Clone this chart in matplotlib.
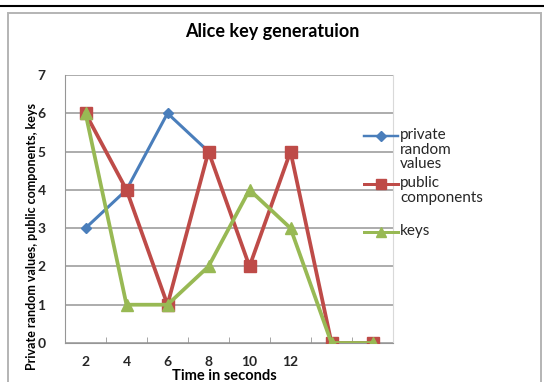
import numpy as np
import matplotlib
matplotlib.use("Agg")
import matplotlib.pyplot as plt
from matplotlib.patches import Rectangle
from matplotlib.lines import Line2D

plt.rcParams['font.family'] = ['Lato', 'DejaVu Sans']

categories = ["2", "4", "6", "8", "10", "12", "", ""]
private_random = [3, 4, 6, 5, np.nan, np.nan, np.nan, np.nan]
public_components = [6, 4, 1, 5, 2, 5, 0, 0]
keys = [6, 1, 1, 2, 4, 3, 0, 0]

series_labels = ["private\nrandom\nvalues", "public\ncomponents", "keys"]

BLUE = "#4A7EBB"
RED = "#BE4B48"
GREEN = "#98B954"
GRID = "#969696"
TEXT = "#262626"

W, H = 544, 382
fig = plt.figure(figsize=(W / 100, H / 100), dpi=100)


def fx(px):
    return px / W


def fy(py):
    return 1 - py / H


# top rule and chart frame
fig.add_artist(Line2D([0, 1], [fy(6), fy(6)], color="black", lw=1.5,
                      transform=fig.transFigure))
fig.add_artist(Rectangle((fx(8), fy(392)), fx(541) - fx(8), fy(13) - fy(392),
                         transform=fig.transFigure, fill=False,
                         edgecolor="#B4B4B4", lw=1.4, clip_on=False))

ax = fig.add_axes([fx(65), fy(343), fx(393) - fx(65), fy(75) - fy(343)])
x = np.arange(len(categories)) + 0.5

ax.set_xlim(0, len(categories))
ax.set_ylim(0, 7)
ax.set_yticks(range(0, 8))
ax.grid(axis="y", color=GRID, lw=1.1)
ax.set_axisbelow(True)

styles = [
    (private_random, BLUE, 2.2, "D", 5.5),
    (public_components, RED, 2.7, "s", 8.5),
    (keys, GREEN, 2.7, "^", 9),
]
for z, (vals, col, lw, mk, ms) in enumerate(styles):
    ax.plot(x, vals, color=col, lw=lw, marker=mk, ms=ms, zorder=3 + z)

ax.set_xticks(x)
ax.set_xticklabels(categories, fontsize=10, fontweight="bold", color=TEXT)
ax.set_xticks(np.arange(len(categories) + 1), minor=True)
ax.tick_params(axis="x", which="major", length=0, pad=9)
ax.tick_params(axis="x", which="minor", length=4, color=GRID, direction="in")
ax.tick_params(axis="y", length=0, pad=14, labelsize=10, labelcolor=TEXT)
for lab in ax.get_yticklabels():
    lab.set_fontweight("bold")

ax.spines["top"].set_visible(False)
ax.spines["right"].set_color("#D9D9D9")
ax.spines["left"].set_color(GRID)
ax.spines["bottom"].set_color(GRID)

fig.text(fx(224), fy(376), "Time in seconds", ha="center", va="center",
         fontsize=10.5, fontweight="bold", color="black")
fig.text(fx(32), fy(237), "Private random values, public components, keys",
         rotation=90, ha="center", va="center", fontsize=9,
         fontweight="bold", color="black")
fig.text(fx(272), fy(32), "Alice key generatuion", ha="center",
         va="center", fontsize=13, fontweight="bold", color="black")

# legend entries: handle aligned with the first line of each label
legend_rows = [136, 184, 232]
for (vals, col, lw, mk, ms), lab, row in zip(styles, series_labels, legend_rows):
    fig.add_artist(Line2D([fx(364), fx(398)], [fy(row), fy(row)], color=col,
                          lw=lw * 0.8, transform=fig.transFigure))
    fig.add_artist(Line2D([fx(381)], [fy(row)], color=col, marker=mk,
                          ms=ms * 0.85, lw=0, transform=fig.transFigure))
    fig.text(fx(400), fy(row - 8), lab, ha="left", va="top", fontsize=11,
             color=TEXT, linespacing=1.05)

fig.savefig("out.png", dpi=100)
